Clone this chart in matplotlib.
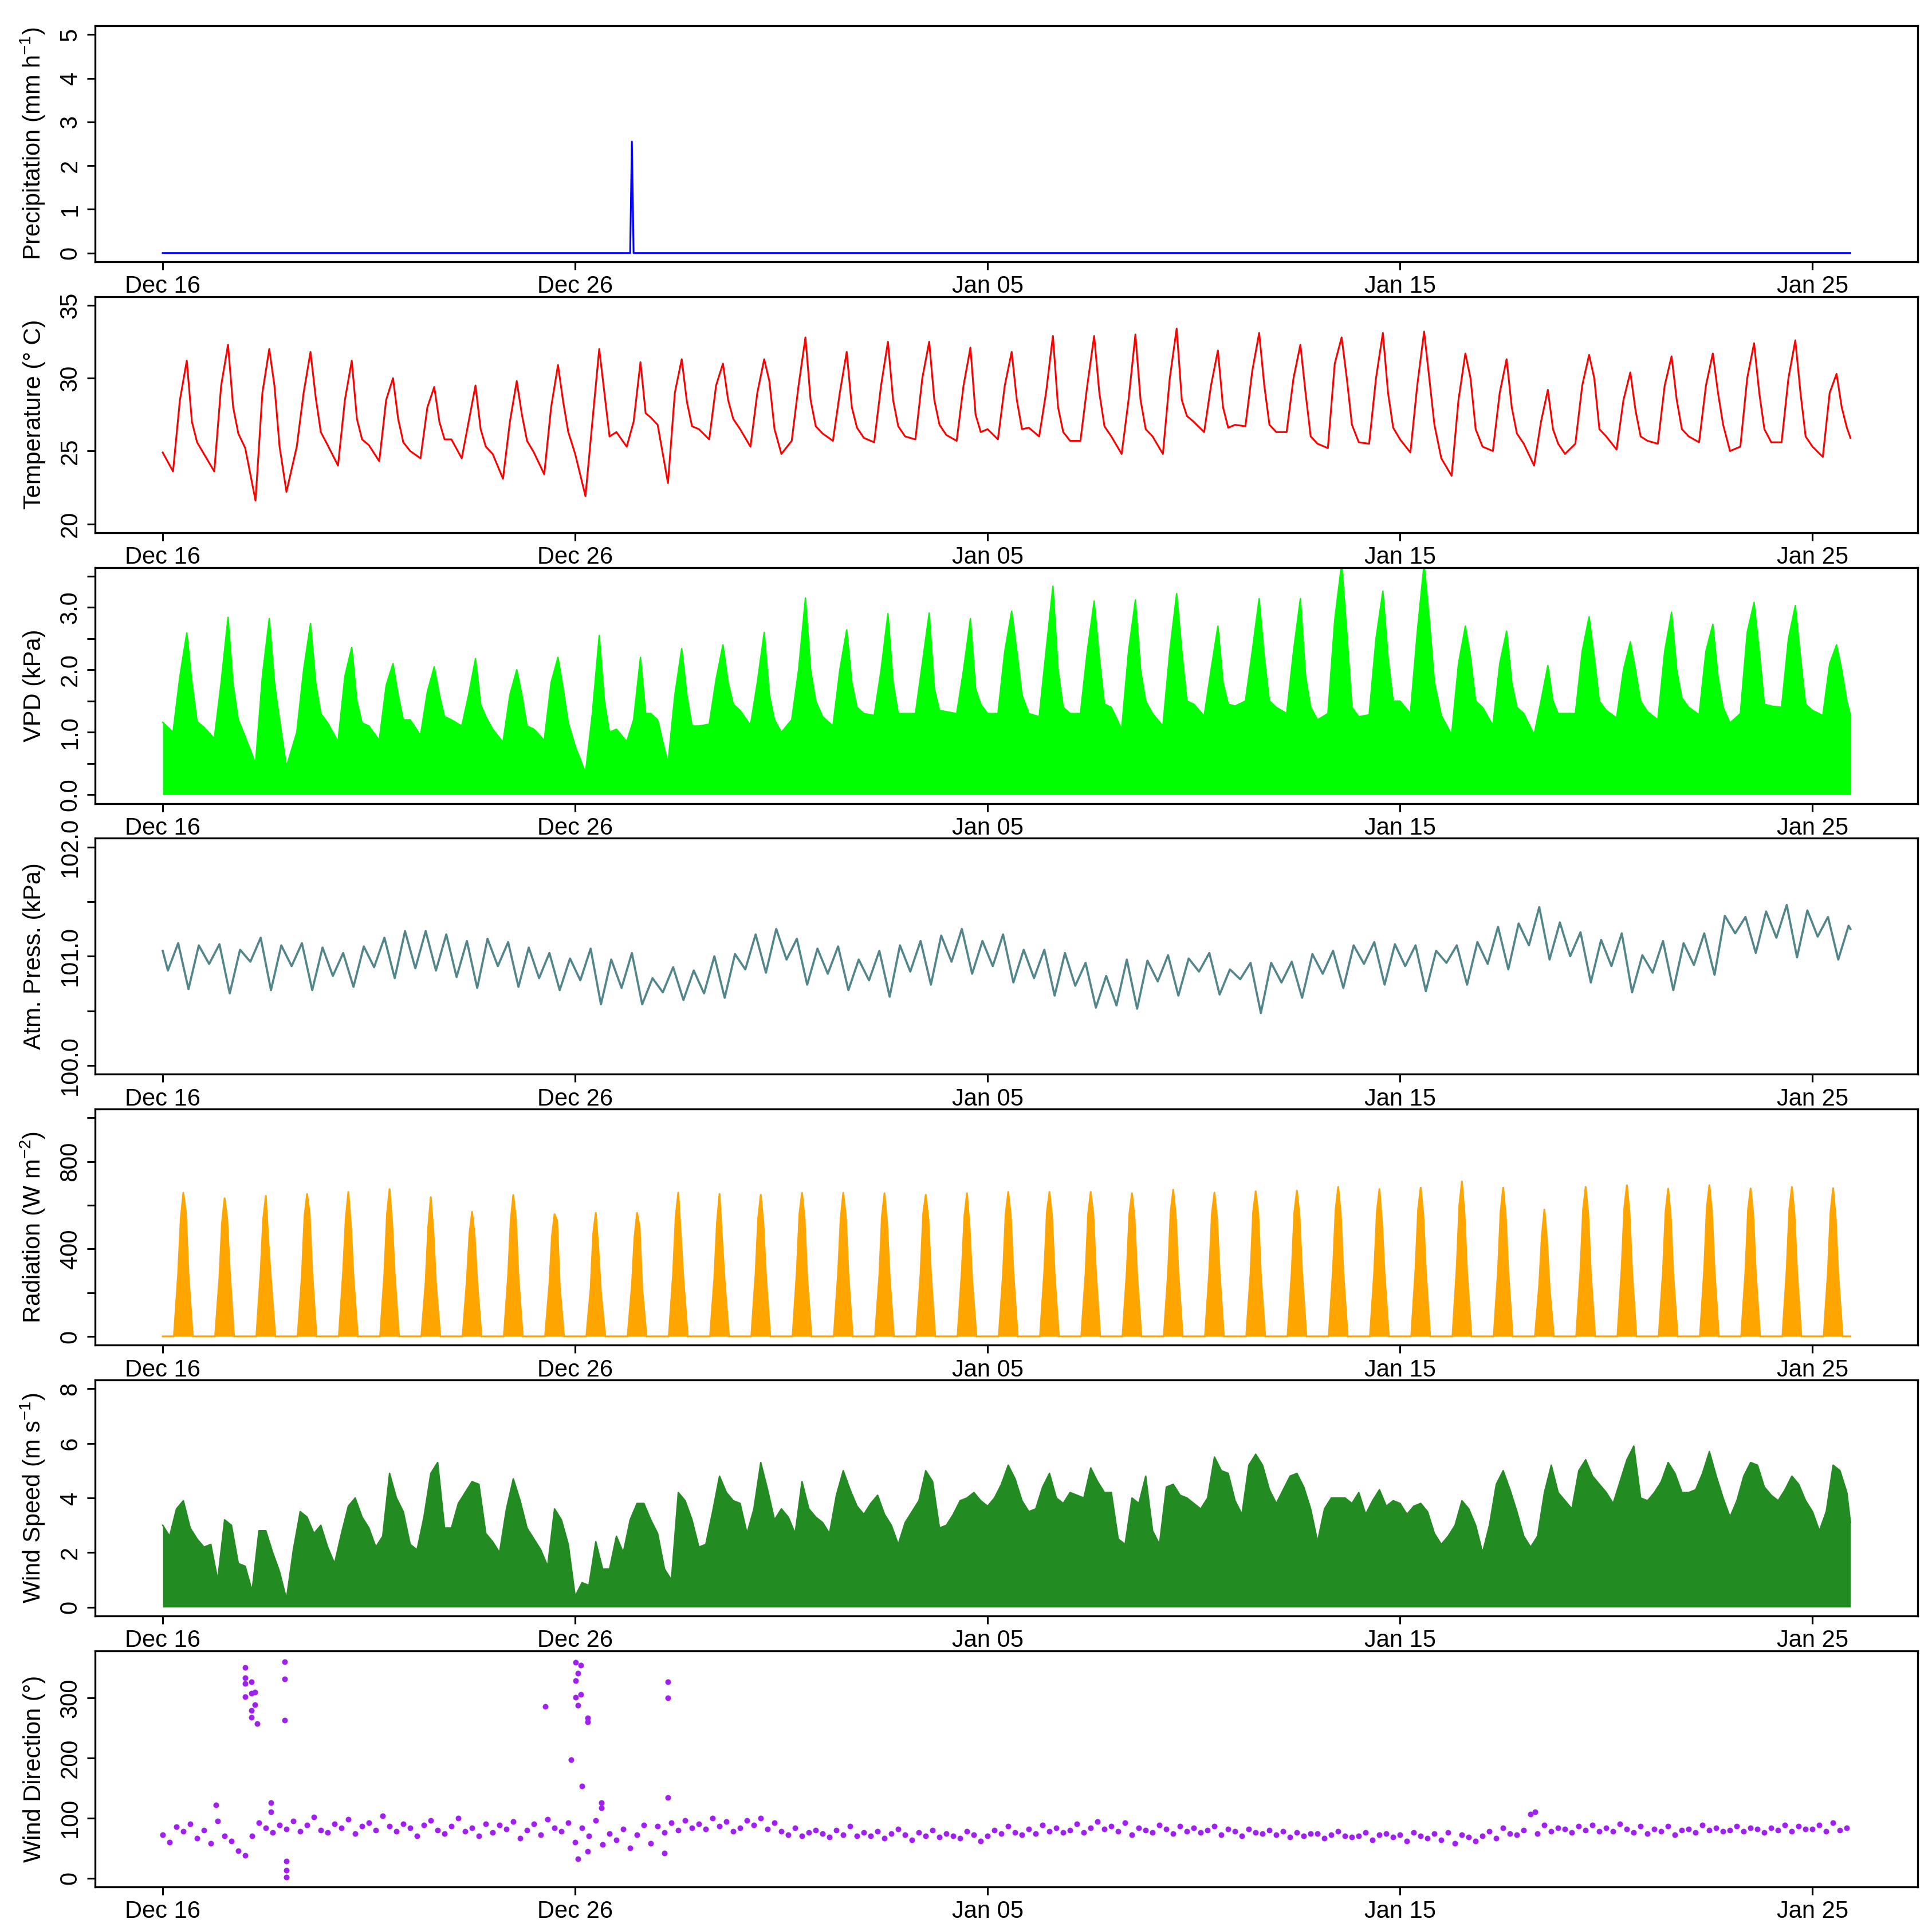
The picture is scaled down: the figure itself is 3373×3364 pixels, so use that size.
import numpy as np
import matplotlib
matplotlib.use("Agg")
import matplotlib.pyplot as plt

plt.rcParams['font.family'] = ['Liberation Sans', 'DejaVu Sans']
plt.rcParams['mathtext.fontset'] = 'custom'
plt.rcParams['mathtext.rm'] = 'Liberation Sans'
plt.rcParams['mathtext.default'] = 'regular'

# time axis: days after Dec 16 00:00
tick_days = [0, 10, 20, 30, 40]
tick_labels = ["Dec 16", "Dec 26", "Jan 05", "Jan 15", "Jan 25"]
t_end = 40.92

# precipitation, hourly; one wet hour only
rain_hour = [273]
rain_mm = [2.55]

# temperature (deg C) at fixed hours of each day
temp_hours = [0, 6, 10, 14, 17, 20]
temp_c = [
    [24.9, 23.6, 28.5, 31.2, 27.0, 25.6], [24.8, 23.6, 29.5, 32.3, 28.0, 26.2],
    [25.2, 21.6, 29.0, 32.0, 29.5, 25.3], [22.2, 25.3, 29.0, 31.8, 28.7, 26.3],
    [25.4, 24.0, 28.5, 31.2, 27.2, 25.8], [25.4, 24.3, 28.5, 30.0, 27.2, 25.6],
    [25.0, 24.5, 28.0, 29.4, 27.0, 25.8], [25.8, 24.5, 27.0, 29.5, 26.5, 25.3],
    [24.8, 23.1, 27.0, 29.8, 27.5, 25.7], [24.9, 23.4, 28.0, 30.9, 28.4, 26.3],
    [24.8, 21.9, 27.0, 32.0, 29.0, 26.0], [26.3, 25.3, 27.0, 31.1, 27.6, 27.3],
    [26.8, 22.8, 29.0, 31.3, 28.4, 26.7], [26.5, 25.8, 29.5, 31.0, 28.5, 27.2],
    [26.5, 25.3, 29.0, 31.3, 29.8, 26.5], [24.8, 25.7, 29.5, 32.8, 28.5, 26.7],
    [26.2, 25.7, 29.0, 31.8, 28.0, 26.6], [25.9, 25.6, 29.5, 32.5, 28.5, 26.7],
    [26.0, 25.8, 30.0, 32.5, 28.5, 26.8], [26.1, 25.7, 29.5, 32.1, 27.5, 26.3],
    [26.5, 25.8, 29.5, 31.8, 28.5, 26.5], [26.6, 26.0, 29.0, 32.9, 28.0, 26.3],
    [25.7, 25.7, 29.5, 32.9, 29.0, 26.7], [26.0, 24.8, 28.5, 33.0, 28.5, 26.5],
    [26.0, 24.8, 30.0, 33.4, 28.5, 27.4], [27.0, 26.3, 29.5, 31.9, 28.0, 26.6],
    [26.8, 26.7, 30.5, 33.1, 29.5, 26.8], [26.3, 26.3, 30.0, 32.3, 29.0, 26.0],
    [25.5, 25.2, 31.0, 32.8, 30.0, 26.8], [25.6, 25.5, 30.0, 33.1, 29.0, 26.6],
    [25.8, 24.9, 29.5, 33.2, 30.0, 26.8], [24.5, 23.3, 28.5, 31.7, 30.0, 26.5],
    [25.3, 25.0, 29.0, 31.3, 28.0, 26.2], [25.5, 24.0, 27.0, 29.2, 26.5, 25.5],
    [24.8, 25.5, 29.5, 31.6, 30.0, 26.5], [26.0, 25.1, 28.5, 30.4, 27.8, 26.0],
    [25.7, 25.5, 29.5, 31.5, 28.5, 26.5], [26.0, 25.6, 29.5, 31.7, 29.0, 26.8],
    [25.0, 25.3, 30.0, 32.4, 29.0, 26.5], [25.6, 25.6, 30.0, 32.6, 29.0, 26.0],
    [25.3, 24.6, 29.0, 30.3, 28.0, 26.6],
]
temp_last = 25.9

# vapour pressure deficit (kPa), same hours
vpd_kpa = [
    [1.16, 1.00, 1.90, 2.59, 1.80, 1.17], [1.08, 0.90, 1.80, 2.84, 1.75, 1.20],
    [0.93, 0.50, 1.90, 2.82, 1.80, 1.20], [0.45, 1.00, 2.00, 2.74, 1.80, 1.30],
    [1.15, 0.85, 1.90, 2.36, 1.50, 1.15], [1.10, 0.87, 1.75, 2.10, 1.60, 1.20],
    [1.20, 0.95, 1.65, 2.05, 1.60, 1.25], [1.20, 1.10, 1.60, 2.18, 1.45, 1.25],
    [1.05, 0.84, 1.60, 2.00, 1.60, 1.10], [1.05, 0.87, 1.80, 2.20, 1.70, 1.15],
    [0.78, 0.35, 1.30, 2.55, 1.50, 1.00], [1.05, 0.85, 1.20, 2.20, 1.30, 1.30],
    [1.20, 0.50, 1.60, 2.34, 1.60, 1.10], [1.10, 1.13, 1.85, 2.40, 1.80, 1.45],
    [1.35, 1.11, 1.80, 2.60, 1.60, 1.20], [1.00, 1.20, 2.00, 3.15, 2.00, 1.50],
    [1.25, 1.10, 2.00, 2.64, 1.80, 1.40], [1.30, 1.27, 2.00, 2.90, 1.80, 1.30],
    [1.30, 1.30, 2.10, 2.91, 1.70, 1.35], [1.33, 1.30, 2.00, 2.82, 1.70, 1.45],
    [1.30, 1.30, 2.30, 2.94, 2.30, 1.60], [1.30, 1.25, 2.30, 3.34, 2.00, 1.40],
    [1.30, 1.30, 2.30, 3.10, 2.20, 1.45], [1.40, 1.05, 2.30, 3.12, 2.00, 1.50],
    [1.30, 1.10, 2.30, 3.22, 2.30, 1.50], [1.45, 1.26, 2.00, 2.70, 1.80, 1.45],
    [1.42, 1.50, 2.30, 3.14, 2.20, 1.50], [1.40, 1.30, 2.30, 3.14, 1.90, 1.40],
    [1.20, 1.30, 2.80, 3.70, 2.60, 1.40], [1.25, 1.28, 2.50, 3.26, 2.20, 1.50],
    [1.50, 1.30, 2.60, 3.70, 2.80, 1.80], [1.27, 0.96, 2.10, 2.70, 2.20, 1.50],
    [1.40, 1.11, 2.10, 2.62, 1.80, 1.40], [1.30, 0.96, 1.50, 2.07, 1.50, 1.30],
    [1.30, 1.30, 2.30, 2.85, 2.20, 1.50], [1.35, 1.23, 2.00, 2.45, 2.00, 1.50],
    [1.33, 1.20, 2.30, 2.92, 2.00, 1.55], [1.40, 1.28, 2.30, 2.73, 1.90, 1.40],
    [1.15, 1.30, 2.60, 3.08, 2.30, 1.45], [1.42, 1.40, 2.50, 3.03, 2.20, 1.45],
    [1.35, 1.27, 2.10, 2.40, 2.00, 1.50],
]
vpd_last = 1.27

# atmospheric pressure (kPa), semi-diurnal troughs/peaks
press_hours = [3, 9, 15, 21]
press_first = 101.05
press_kpa = [
    [100.87, 101.12, 100.70, 101.10], [100.93, 101.11, 100.66, 101.06],
    [100.95, 101.17, 100.69, 101.10], [100.91, 101.12, 100.69, 101.08],
    [100.82, 101.03, 100.72, 101.09], [100.90, 101.17, 100.80, 101.23],
    [100.89, 101.23, 100.87, 101.20], [100.81, 101.14, 100.71, 101.16],
    [100.91, 101.13, 100.72, 101.08], [100.80, 101.03, 100.69, 100.98],
    [100.78, 101.07, 100.56, 100.97], [100.71, 101.03, 100.56, 100.80],
    [100.67, 100.90, 100.60, 100.87], [100.66, 101.00, 100.62, 101.02],
    [100.88, 101.20, 100.85, 101.25], [100.97, 101.16, 100.74, 101.07],
    [100.84, 101.09, 100.69, 100.97], [100.78, 101.05, 100.63, 101.10],
    [100.86, 101.14, 100.74, 101.19], [100.95, 101.25, 100.84, 101.14],
    [100.91, 101.20, 100.76, 101.06], [100.80, 101.06, 100.64, 101.03],
    [100.73, 100.94, 100.53, 100.82], [100.55, 100.97, 100.52, 100.96],
    [100.77, 101.01, 100.64, 100.98], [100.86, 101.03, 100.65, 100.88],
    [100.79, 100.94, 100.48, 100.94], [100.76, 100.95, 100.62, 101.02],
    [100.84, 101.05, 100.71, 101.10], [100.93, 101.13, 100.74, 101.11],
    [100.91, 101.10, 100.68, 101.05], [100.94, 101.10, 100.74, 101.13],
    [100.93, 101.27, 100.88, 101.30], [101.10, 101.45, 100.97, 101.31],
    [101.00, 101.22, 100.76, 101.15], [100.91, 101.21, 100.67, 101.01],
    [100.85, 101.14, 100.69, 101.12], [100.92, 101.21, 100.83, 101.37],
    [101.21, 101.36, 101.03, 101.41], [101.17, 101.47, 100.99, 101.42],
    [101.18, 101.36, 100.97, 101.28],
]
press_last = 101.25

# global radiation (W m-2); zero before sunrise and after sunset
sunrise_h, sunset_h = 6.5, 17.5
rad_hours = [9, 10.5, 12, 13.5, 15]
rad_w = [
    [290, 540, 657, 565, 280], [270, 520, 632, 540, 300], [300, 540, 643, 430, 260],
    [280, 550, 652, 560, 290], [300, 540, 661, 510, 270], [290, 560, 674, 520, 280],
    [250, 500, 637, 480, 240], [260, 470, 570, 460, 250], [280, 530, 647, 540, 270],
    [240, 460, 559, 530, 230], [220, 470, 565, 400, 200], [230, 450, 565, 500, 220],
    [290, 550, 658, 460, 260], [270, 520, 652, 440, 250], [290, 540, 648, 520, 280],
    [300, 560, 657, 540, 270], [290, 540, 657, 550, 280], [280, 550, 655, 520, 270],
    [290, 560, 648, 540, 290], [300, 550, 655, 500, 260], [290, 560, 661, 550, 290],
    [300, 570, 661, 550, 280], [290, 560, 661, 560, 300], [300, 560, 655, 540, 280],
    [290, 570, 671, 550, 290], [300, 560, 658, 540, 290], [290, 570, 664, 560, 280],
    [300, 570, 667, 550, 290], [310, 580, 684, 560, 290], [300, 570, 674, 520, 280],
    [310, 580, 681, 560, 300], [320, 600, 709, 560, 290], [300, 570, 681, 550, 290],
    [240, 460, 580, 440, 220], [310, 580, 684, 560, 290], [320, 590, 692, 570, 300],
    [300, 570, 676, 550, 280], [310, 590, 692, 570, 300], [300, 580, 677, 560, 290],
    [310, 580, 684, 560, 300], [300, 570, 678, 540, 280],
]

# wind speed (m s-1), every 4 hours from Dec 16 00:00
wind_step_h = 4
wind_ms = [
    3.0, 2.6, 3.6, 3.9, 2.9, 2.5, 2.2, 2.3, 1.0, 3.2, 3.0, 1.6,
    1.5, 0.6, 2.8, 2.8, 2.0, 1.3, 0.3, 2.1, 3.5, 3.3, 2.7, 3.0,
    2.2, 1.6, 2.7, 3.7, 4.0, 3.3, 2.9, 2.2, 2.6, 4.9, 4.0, 3.5,
    2.3, 2.1, 3.3, 4.9, 5.3, 2.9, 2.9, 3.8, 4.2, 4.6, 4.5, 2.7,
    2.4, 2.0, 3.6, 4.7, 3.9, 2.9, 2.5, 2.1, 1.5, 3.6, 3.2, 2.3,
    0.4, 0.9, 0.8, 2.4, 1.4, 1.4, 2.6, 2.0, 3.2, 3.8, 3.8, 3.2,
    2.7, 1.4, 1.0, 4.2, 3.9, 3.2, 2.2, 2.3, 3.5, 4.8, 4.2, 3.9,
    3.8, 2.7, 3.6, 5.3, 4.3, 3.2, 3.6, 3.3, 2.7, 4.6, 3.6, 3.3,
    3.1, 2.7, 4.1, 5.0, 4.3, 3.7, 3.4, 3.8, 4.1, 3.4, 3.0, 2.3,
    3.1, 3.5, 3.9, 5.0, 4.6, 2.9, 3.0, 3.4, 3.9, 4.0, 4.2, 3.9,
    3.7, 4.0, 4.5, 5.2, 4.7, 3.9, 3.5, 3.6, 4.4, 4.9, 4.0, 3.8,
    4.2, 4.1, 4.0, 5.1, 4.6, 4.2, 4.2, 2.5, 2.3, 4.0, 3.8, 4.8,
    2.8, 2.3, 4.4, 4.5, 4.1, 4.0, 3.8, 3.6, 4.0, 5.5, 5.0, 4.9,
    3.9, 3.4, 5.2, 5.6, 5.2, 4.3, 3.8, 4.3, 4.8, 4.9, 4.4, 3.6,
    2.4, 3.6, 4.0, 4.0, 4.0, 3.8, 4.2, 3.4, 3.9, 4.3, 3.7, 3.9,
    3.8, 3.4, 3.7, 3.8, 3.5, 2.7, 2.3, 2.6, 3.0, 3.9, 3.6, 3.0,
    2.0, 3.0, 4.5, 5.0, 4.3, 3.5, 2.6, 2.2, 2.6, 4.2, 5.2, 4.2,
    3.9, 3.6, 5.0, 5.4, 4.8, 4.5, 4.2, 3.8, 4.6, 5.4, 5.9, 4.0,
    3.9, 4.2, 4.6, 5.3, 4.9, 4.2, 4.2, 4.3, 4.9, 5.7, 4.8, 4.0,
    3.3, 3.9, 4.8, 5.3, 5.2, 4.4, 4.1, 3.9, 4.3, 4.8, 4.5, 3.9,
    3.5, 2.8, 3.5, 5.2, 5.0, 4.2,
]
wind_last = 3.1

# wind direction (deg), every 4 hours, plus scattered outlying readings
wdir_hours = [0, 4, 8, 12, 16, 20]
wdir_deg = [
    [72, 60, 85, 78, 90, 66], [80, 58, 95, 70, 62, 45], [38, 70, 92, 84, 76, 88],
    [82, 95, 78, 88, 102, 80], [76, 90, 84, 98, 74, 86], [92, 80, 104, 86, 78, 90],
    [84, 70, 88, 96, 80, 74], [86, 100, 78, 84, 70, 90], [76, 88, 82, 94, 66, 80],
    [90, 72, 98, 84, 78, 92], [60, 84, 70, 96, 56, 74], [64, 82, 50, 72, 88, 58],
    [86, 76, 92, 80, 96, 84], [90, 82, 100, 86, 94, 78], [84, 96, 88, 100, 82, 92],
    [78, 72, 84, 70, 76, 80], [74, 68, 80, 72, 86, 70], [76, 70, 78, 66, 74, 82],
    [72, 64, 76, 70, 80, 68], [74, 70, 66, 78, 72, 62], [70, 80, 74, 86, 76, 72],
    [82, 74, 88, 78, 84, 76], [80, 90, 76, 84, 94, 82], [86, 78, 92, 72, 84, 80],
    [76, 88, 82, 74, 86, 78], [84, 76, 80, 86, 72, 82], [78, 70, 82, 76, 74, 80],
    [72, 78, 68, 76, 70, 74], [74, 66, 72, 78, 70, 68], [70, 76, 64, 72, 74, 68],
    [72, 62, 76, 70, 66, 74], [64, 76, 58, 72, 68, 62], [70, 78, 66, 84, 74, 72],
    [80, 106, 74, 88, 78, 84], [82, 76, 86, 80, 88, 78], [84, 78, 90, 82, 76, 86],
    [74, 82, 78, 86, 72, 80], [82, 76, 88, 80, 84, 78], [80, 86, 78, 84, 82, 76],
    [84, 80, 88, 78, 86, 82], [82, 88, 78, 92, 80, 84],
]
wdir_out_day = [1.29, 2.0, 2.0, 2.0, 2.0, 2.15, 2.15, 2.15, 2.15, 2.23, 2.23, 2.29,
                2.63, 2.63, 2.95, 2.95, 2.95, 3.0, 3.0, 3.0, 9.27, 9.9, 10.01, 10.01,
                10.01, 10.07, 10.07, 10.07, 10.13, 10.13, 10.16, 10.3, 10.3, 10.3,
                10.64, 10.64, 12.16, 12.25, 12.25, 12.25, 33.28]
wdir_out_deg = [122, 351, 333, 324, 302, 327, 308, 279, 268, 310, 289, 257,
                126, 110, 360, 332, 263, 28, 13, 2, 286, 197, 359, 329,
                301, 341, 288, 32, 354, 306, 153, 267, 260, 44,
                126, 117, 42, 327, 300, 134, 110]


def daily_series(hours, rows, first=None, last=None):
    rows = np.asarray(rows, dtype=float)
    t = (np.arange(len(rows))[:, None] + np.asarray(hours)[None, :] / 24.0).ravel()
    v = rows.ravel()
    if first is not None:
        t, v = np.r_[0.0, t], np.r_[first, v]
    if last is not None:
        t, v = np.r_[t, t_end], np.r_[v, last]
    return t, v


# build series
n_hours = int(t_end * 24) + 1
rain = np.zeros(n_hours)
rain[rain_hour] = rain_mm
t_rain = np.arange(n_hours) / 24.0

t_temp, v_temp = daily_series(temp_hours, temp_c, last=temp_last)
t_vpd, v_vpd = daily_series(temp_hours, vpd_kpa, last=vpd_last)
t_press, v_press = daily_series(press_hours, press_kpa, first=press_first, last=press_last)
rad_full = np.pad(np.asarray(rad_w, dtype=float), ((0, 0), (1, 1)))
t_rad, v_rad = daily_series([sunrise_h] + rad_hours + [sunset_h], rad_full, first=0.0, last=0.0)
t_ws = np.r_[np.arange(len(wind_ms)) * wind_step_h / 24.0, t_end]
v_ws = np.r_[wind_ms, wind_last]
t_wd, v_wd = daily_series(wdir_hours, wdir_deg)

W, H = 3373, 3364
fig = plt.figure(figsize=(W / 300, H / 300), dpi=300)

panels = [
    dict(label="Precipitation (mm h$^{-1}$)", ylim=(-0.2, 5.2),
         ticks=[0, 1, 2, 3, 4, 5], labels=["0", "1", "2", "3", "4", "5"]),
    dict(label="Temperature (\u00b0 C)", ylim=(19.4, 35.6),
         ticks=[20, 25, 30, 35], labels=["20", "25", "30", "35"]),
    dict(label="VPD (kPa)", ylim=(-0.14, 3.64),
         ticks=[0, 0.5, 1, 1.5, 2, 2.5, 3, 3.5],
         labels=["0.0", "", "1.0", "", "2.0", "", "3.0", ""]),
    dict(label="Atm. Press. (kPa)", ylim=(99.92, 102.08),
         ticks=[100, 100.5, 101, 101.5, 102],
         labels=["100.0", "", "101.0", "", "102.0"]),
    dict(label="Radiation (W m$^{-2}$)", ylim=(-40, 1040),
         ticks=[0, 200, 400, 600, 800, 1000], labels=["0", "", "400", "", "800", ""]),
    dict(label="Wind Speed (m s$^{-1}$)", ylim=(-0.32, 8.32),
         ticks=[0, 2, 4, 6, 8], labels=["0", "2", "4", "6", "8"]),
    dict(label="Wind Direction (\u00b0)", ylim=(-14.5, 378.5),
         ticks=[0, 100, 200, 300], labels=["0", "100", "200", "300"]),
]

axes = []
for k, p in enumerate(panels):
    top = 45 + 472.8 * k
    ax = fig.add_axes([166 / W, 1 - (top + 412) / H, 3182 / W, 412 / H])
    ax.set_xlim(-1.64, 42.55)
    ax.set_ylim(*p["ylim"])
    ax.set_xticks(tick_days)
    ax.set_xticklabels(tick_labels)
    ax.set_yticks(p["ticks"])
    ax.set_yticklabels(p["labels"])
    for lab in ax.get_yticklabels():
        lab.set_rotation(90)
        lab.set_va("center")
    ax.tick_params(axis="both", direction="out", length=3.4, width=0.75,
                   labelsize=10, color="black")
    ax.tick_params(axis="x", pad=2.2)
    ax.tick_params(axis="y", pad=2.2)
    for s in ax.spines.values():
        s.set_linewidth(0.8)
    ax.set_ylabel(p["label"], fontsize=10)
    ax.yaxis.label.set_va("baseline")
    ax.yaxis.set_label_coords(-95 / 3182, 0.5)
    axes.append(ax)

axes[0].plot(t_rain, rain, color="#0000FF", lw=0.75)
axes[1].plot(t_temp, v_temp, color="#FF0000", lw=0.75)
axes[2].fill_between(t_vpd, 0, v_vpd, color="#00FF00", lw=0)
axes[2].plot(t_vpd, v_vpd, color="#00FF00", lw=0.6)
axes[3].plot(t_press, v_press, color="#53868B", lw=0.9)
axes[4].fill_between(t_rad, 0, v_rad, color="#FFA500", lw=0)
axes[4].plot(t_rad, v_rad, color="#FFA500", lw=0.75)
axes[5].fill_between(t_ws, 0, v_ws, color="#228B22", lw=0)
axes[5].plot(t_ws, v_ws, color="#228B22", lw=0.6)
axes[6].plot(t_wd, v_wd, "o", color="#A020F0", ms=2.4, mew=0)
axes[6].plot(wdir_out_day, wdir_out_deg, "o", color="#A020F0", ms=2.4, mew=0)

fig.savefig("out.png", dpi=300)
